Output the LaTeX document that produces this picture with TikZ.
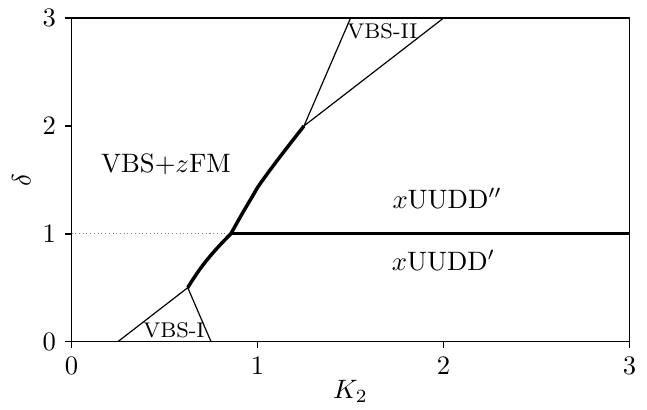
\documentclass[tikz,border=0pt]{standalone}
\usepackage{amsmath,amssymb}
\usetikzlibrary{positioning}

\begin{document}
\begin{tikzpicture}[
  x=2.455cm, y=1.423cm,
  font=\normalsize,
  frm/.style={line width=0.6pt},
  tck/.style={line width=0.6pt},
  bnd/.style={line width=0.45pt},
  trans/.style={line width=1.3pt},
  guide/.style={densely dotted, line width=0.4pt, gray},
  phase/.style={anchor=base, inner sep=0pt},
  small/.style={phase, font=\footnotesize},
]
\useasboundingbox (-0.3844,-0.626) rectangle (3.094,3.168);

% ---- frame and ticks ------------------------------------------------------
\draw[frm] (0,0) rectangle (3,3);
\foreach \k in {0,1,2,3} {
  \draw[tck] (\k,0) -- (\k,-0.062) node[below=2pt, inner sep=1pt] (xt\k) {$\k$};
  \draw[tck] (0,\k) -- (-0.037,\k) node[left=2pt, inner sep=1pt] (yt\k) {$\k$};
}
\node (xlab) at (1.5,-0.46) {$K_2$};
\node[rotate=90] (ylab) at (-0.269,1.5) {$\delta$};

% ---- phase boundaries -----------------------------------------------------
\coordinate (a) at (0.25,0);
\coordinate (b) at (0.75,0);
\coordinate (t1) at (0.625,0.5);
\coordinate (t2) at (0.857,1);
\coordinate (t3) at (1.25,2);
\coordinate (c) at (1.5,3);
\coordinate (d) at (2,3);
\coordinate (e) at (3,1);
\coordinate (f) at (0,1);

\draw[bnd] (a) -- (t1) -- (b);
\draw[bnd] (c) -- (t3) -- (d);
\draw[trans] plot[smooth, tension=0.9] coordinates {(0.625,0.5) (0.725,0.75) (0.857,1)};
\draw[trans] plot[smooth, tension=0.9] coordinates {(0.857,1) (0.96,1.31) (1.05,1.55) (1.25,2)};
\draw[trans] (t2) -- (e);
\draw[guide] (f) -- (t2);

% ---- phase labels ---------------------------------------------------------
\node[phase] (zfm)  at (0.508,1.572) {VBS$+z$FM};
\node[phase] (uud2) at (2.02,1.238)  {$x$UUDD$''$};
\node[phase] (uud1) at (2.0,0.663)   {$x$UUDD$'$};
\node[small] (vb1)  at (0.551,0.039) {VBS-I};
\node[small] (vb2)  at (1.672,2.815) {VBS-II};

\end{tikzpicture}
\end{document}
